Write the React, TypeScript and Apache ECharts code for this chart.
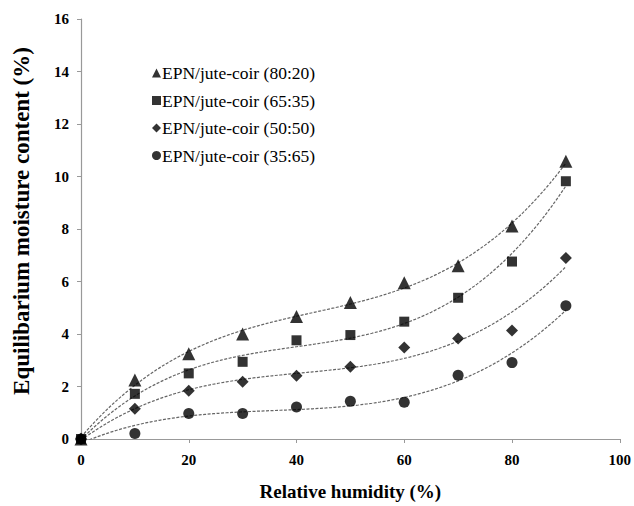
import React, { useEffect, useRef } from "react";
import * as echarts from "echarts";

const humidity = [0, 10, 20, 30, 40, 50, 60, 70, 80, 90];
const s8020 = [0, 2.25, 3.25, 4.0, 4.67, 5.2, 5.95, 6.6, 8.11, 10.58];
const s6535 = [0, 1.72, 2.5, 2.94, 3.76, 3.96, 4.47, 5.38, 6.76, 9.82];
const s5050 = [0, 1.15, 1.84, 2.18, 2.41, 2.75, 3.49, 3.83, 4.13, 6.9];
const s3565 = [0, 0.21, 0.97, 0.97, 1.22, 1.44, 1.4, 2.43, 2.91, 5.08];

const seriesNames = [
  "EPN/jute-coir (80:20)",
  "EPN/jute-coir (65:35)",
  "EPN/jute-coir (50:50)",
  "EPN/jute-coir (35:65)",
];
const seriesSymbols = ["triangle", "rect", "diamond", "circle"];
const seriesSizes = [13, 10, 12, 11];

// least-squares cubic trendline (like a spreadsheet's polynomial trendline)
function cubicFit(xs: number[], ys: number[]): number[] {
  const n = 4;
  const A: number[][] = [];
  for (let i = 0; i < n; i++) {
    const row: number[] = [];
    for (let j = 0; j < n; j++) {
      let s = 0;
      for (let k = 0; k < xs.length; k++) s += Math.pow(xs[k], i + j);
      row.push(s);
    }
    let b = 0;
    for (let k = 0; k < xs.length; k++) b += ys[k] * Math.pow(xs[k], i);
    row.push(b);
    A.push(row);
  }
  for (let c = 0; c < n; c++) {
    let p = c;
    for (let r = c + 1; r < n; r++) if (Math.abs(A[r][c]) > Math.abs(A[p][c])) p = r;
    [A[c], A[p]] = [A[p], A[c]];
    for (let r = 0; r < n; r++) {
      if (r === c) continue;
      const f = A[r][c] / A[c][c];
      for (let j = c; j <= n; j++) A[r][j] -= f * A[c][j];
    }
  }
  return A.map((row, i) => row[n] / row[i]);
}

function trend(ys: number[]): number[][] {
  const coef = cubicFit(humidity, ys);
  const pts: number[][] = [];
  const xMax = humidity[humidity.length - 1];
  for (let x = 0; x <= xMax; x += 0.5) {
    const y = coef[0] + coef[1] * x + coef[2] * x * x + coef[3] * x * x * x;
    pts.push([x, y]);
  }
  return pts;
}

export default function App() {
  const ref = useRef<HTMLDivElement>(null);
  useEffect(() => {
    if (!ref.current) return;
    const chart = echarts.init(ref.current, null, { renderer: "svg" });
    const all = [s8020, s6535, s5050, s3565];
    const font = "'Liberation Serif', 'Times New Roman', serif";
    const series: any[] = [];
    all.forEach((ys) => {
      series.push({
        type: "line",
        data: trend(ys),
        showSymbol: false,
        silent: true,
        lineStyle: { color: "#666", width: 1.2, type: [3, 1.5] },
        z: 1,
      });
    });
    all.forEach((ys, i) => {
      series.push({
        name: seriesNames[i],
        type: "scatter",
        data: humidity.map((x, k) => [x, ys[k]]),
        symbol: seriesSymbols[i],
        symbolSize: seriesSizes[i],
        itemStyle: { color: "#000" },
        z: 3,
      });
    });
    chart.setOption({
      animation: false,
      backgroundColor: "#fff",
      grid: { left: 81, right: 14, top: 19, bottom: 64 },
      legend: {
        orient: "vertical",
        left: 147,
        top: 59,
        itemWidth: 9,
        itemHeight: 9,
        itemGap: 9.5,
        data: seriesNames.map((n, i) => ({ name: n, icon: seriesSymbols[i] })),
        textStyle: { fontFamily: font, fontSize: 17.5, color: "#000", padding: [0, 0, 0, -4] },
      },
      xAxis: {
        type: "value",
        min: 0,
        max: 100,
        interval: 20,
        name: "Relative humidity (%)",
        nameLocation: "middle",
        nameGap: 43,
        nameTextStyle: { fontFamily: font, fontSize: 19, fontWeight: "bold", color: "#000" },
        axisLine: { lineStyle: { color: "#999", width: 1.2 } },
        axisTick: { show: true, length: 4, lineStyle: { color: "#999" } },
        axisLabel: { fontFamily: font, fontSize: 15, fontWeight: "bold", color: "#000", margin: 13 },
        splitLine: { show: false },
      },
      yAxis: {
        type: "value",
        min: 0,
        max: 16,
        interval: 2,
        name: "Equilibarium moisture content (%)",
        nameLocation: "middle",
        nameGap: 48,
        nameTextStyle: {
          fontFamily: font,
          fontSize: 23,
          fontWeight: "bold",
          color: "#000",
          padding: [0, 0, 0, 16],
        },
        axisLine: { show: true, lineStyle: { color: "#999", width: 1.2 } },
        axisTick: { show: true, length: 4, lineStyle: { color: "#999" } },
        axisLabel: { fontFamily: font, fontSize: 15, fontWeight: "bold", color: "#000", margin: 12 },
        splitLine: { show: false },
      },
      series,
    });
    return () => chart.dispose();
  }, []);
  return <div ref={ref} style={{ width: 634, height: 506, position: "absolute", left: 0, top: 0 }} />;
}
